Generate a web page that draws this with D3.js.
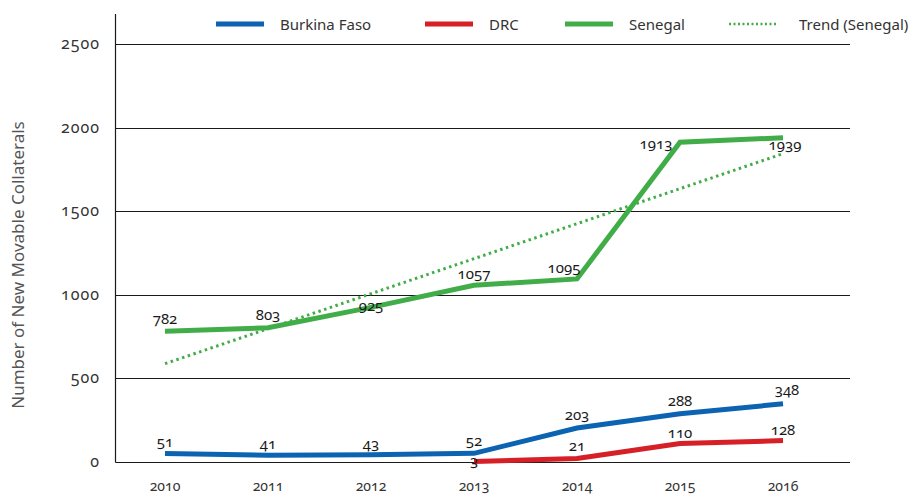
<!DOCTYPE html>
<html>
<head>
<meta charset="utf-8">
<script src="https://cdn.jsdelivr.net/npm/d3@7"></script>
<style>
  body { margin: 0; background: #fff; }
  svg text { font-family: "Noto Sans", "Open Sans", sans-serif; font-variant-numeric: oldstyle-nums; }
</style>
</head>
<body>
<div id="chart-area"></div>
<script>
// data
var years = ["2010", "2011", "2012", "2013", "2014", "2015", "2016"];
var burkina = [51, 41, 43, 52, 203, 288, 348];
var drc = [null, null, null, 3, 21, 110, 128];
var senegal = [782, 803, 925, 1057, 1095, 1913, 1939];
var trendSenegal = [588, 1844]; // ends of the trend line, 2010 and 2016
var yTicks = [0, 500, 1000, 1500, 2000, 2500];

var width = 913, height = 497;

var svg = d3.select("#chart-area")
  .append("svg")
  .attr("width", width)
  .attr("height", height);

// scales
var x = d3.scalePoint()
  .domain(years)
  .range([165, 783]);

var y = d3.scaleLinear()
  .domain([0, 2500])
  .range([462, 44]);

var left = 115.5, right = 850;

// gridlines
svg.append("g")
  .selectAll("line")
  .data(yTicks)
  .enter()
  .append("line")
  .attr("x1", left)
  .attr("x2", right)
  .attr("y1", function(d) { return Math.round(y(d)) + 0.5; })
  .attr("y2", function(d) { return Math.round(y(d)) + 0.5; })
  .attr("stroke", "#1a1a1a")
  .attr("stroke-width", 1.2);

// y axis line
svg.append("line")
  .attr("x1", left).attr("x2", left)
  .attr("y1", 14).attr("y2", Math.round(y(0)) + 0.5)
  .attr("stroke", "#1a1a1a")
  .attr("stroke-width", 1.2);

// y tick labels
svg.append("g")
  .selectAll("text")
  .data(yTicks)
  .enter()
  .append("text")
  .attr("x", 100)
  .attr("y", function(d) { return y(d) + 5; })
  .attr("text-anchor", "end")
  .attr("font-size", "16px")
  .attr("letter-spacing", "1px")
  .attr("fill", "#333")
  .text(function(d) { return d; });

// x tick labels
svg.append("g")
  .selectAll("text")
  .data(years)
  .enter()
  .append("text")
  .attr("x", function(d) { return x(d); })
  .attr("y", 491)
  .attr("text-anchor", "middle")
  .attr("font-size", "14px")
  .attr("fill", "#333")
  .text(function(d) { return d; });

// y axis title
svg.append("text")
  .attr("transform", "translate(24,265) rotate(-90)")
  .attr("text-anchor", "middle")
  .attr("font-size", "17px")
  .attr("fill", "#555")
  .style("font-variant-numeric", "normal")
  .text("Number of New Movable Collaterals");

var line = d3.line()
  .defined(function(d) { return d.v !== null; })
  .x(function(d) { return x(d.year); })
  .y(function(d) { return y(d.v); });

function toPoints(values) {
  return values.map(function(v, i) { return { year: years[i], v: v }; });
}

var series = [
  { name: "Senegal", values: senegal, color: "#41ad49" },
  { name: "DRC", values: drc, color: "#d71f27" },
  { name: "Burkina Faso", values: burkina, color: "#0b63b2" }
];

// trend line (dotted)
svg.append("path")
  .datum([{ year: years[0], v: trendSenegal[0] }, { year: years[6], v: trendSenegal[1] }])
  .attr("d", line)
  .attr("fill", "none")
  .attr("stroke", "#41ad49")
  .attr("stroke-width", 3)
  .attr("stroke-dasharray", "2.5,3.5");

svg.append("g")
  .selectAll("path")
  .data(series)
  .enter()
  .append("path")
  .attr("d", function(d) { return line(toPoints(d.values)); })
  .attr("fill", "none")
  .attr("stroke", function(d) { return d.color; })
  .attr("stroke-width", 5)
  .attr("stroke-linejoin", "miter");

// data labels, small nudges so they sit like the original
var nudge = {
  "Senegal": [[0, -7], [0, -8], [0, 4], [0, -6], [-13, -6], [-24, 7], [2, 12]],
  "DRC": [null, null, null, [0, 5], [0, -7], [0, -6], [0, -6]],
  "Burkina Faso": [[0, -6], [0, -6], [0, -6], [0, -7], [0, -8], [0, -8], [4, -9]]
};

series.forEach(function(s) {
  svg.append("g")
    .selectAll("text")
    .data(toPoints(s.values).map(function(p, i) { p.i = i; return p; })
      .filter(function(p) { return p.v !== null; }))
    .enter()
    .append("text")
    .attr("x", function(d) { return x(d.year) + nudge[s.name][d.i][0]; })
    .attr("y", function(d) { return y(d.v) + nudge[s.name][d.i][1]; })
    .attr("text-anchor", "middle")
    .attr("font-size", "15px")
    .attr("fill", "#1a1a1a")
    .text(function(d) { return d.v; });
});

// legend
var legend = [
  { name: "Burkina Faso", color: "#0b63b2", x: 216, dotted: false },
  { name: "DRC", color: "#d71f27", x: 425, dotted: false },
  { name: "Senegal", color: "#41ad49", x: 565, dotted: false },
  { name: "Trend (Senegal)", color: "#41ad49", x: 729, dotted: true }
];

var lg = svg.append("g")
  .selectAll("g")
  .data(legend)
  .enter()
  .append("g");

lg.append("line")
  .attr("x1", function(d) { return d.x; })
  .attr("x2", function(d) { return d.x + 48; })
  .attr("y1", 24).attr("y2", 24)
  .attr("stroke", function(d) { return d.color; })
  .attr("stroke-width", function(d) { return d.dotted ? 2.5 : 5; })
  .attr("stroke-dasharray", function(d) { return d.dotted ? "2,2.5" : null; });

lg.append("text")
  .attr("x", function(d) { return d.x + (d.dotted ? 70 : 64); })
  .attr("y", 30)
  .attr("font-size", "15px")
  .attr("fill", "#333")
  .style("font-variant-numeric", "normal")
  .text(function(d) { return d.name; });
</script>
</body>
</html>
